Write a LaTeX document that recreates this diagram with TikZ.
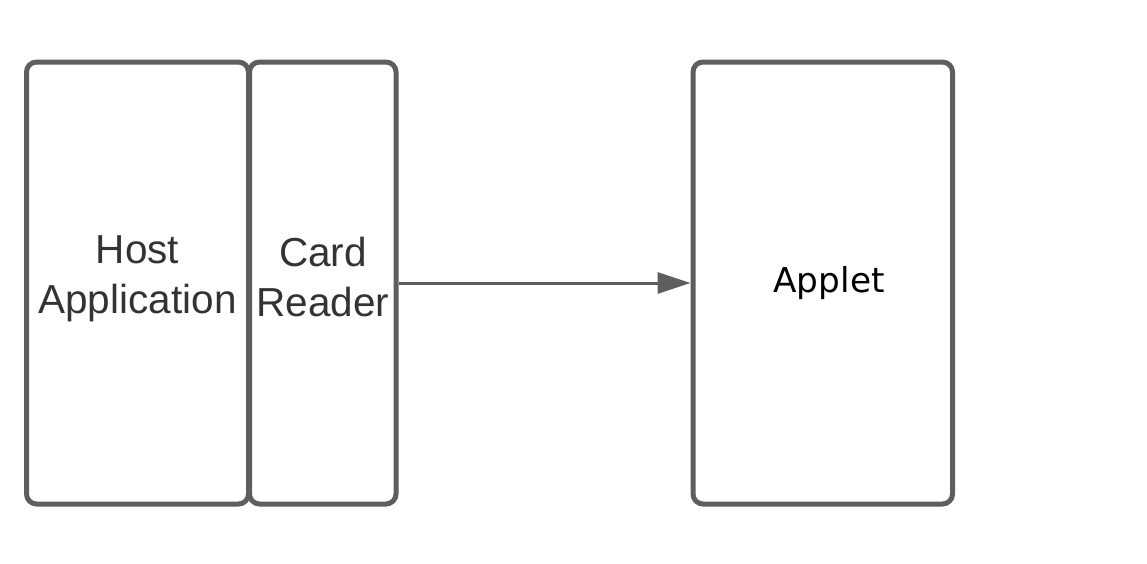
\documentclass[tikz,border=0pt]{standalone}
\usepackage{fontspec}
\usetikzlibrary{arrows.meta}
\newfontfamily\libsans{Liberation Sans}
\newfontfamily\dvsans{DejaVu Sans}
\definecolor{strokegray}{HTML}{5E5E5E}
\definecolor{textgray}{HTML}{333333}
\begin{document}
\begin{tikzpicture}[x=1pt,y=-1pt,
  panel/.style={draw=strokegray, line width=5pt, rounded corners=10pt, inner sep=0pt, minimum height=442pt},
  bigtext/.style={font=\libsans\fontsize{40.5}{50}\selectfont, text=textgray, align=center, inner sep=0pt, anchor=base},
  applettext/.style={font=\dvsans\fontsize{34.3}{40}\selectfont, text=black, inner sep=0pt, anchor=base},
  link/.style={draw=strokegray, line width=3pt, -{Triangle[length=33pt,width=21pt]}}]
\useasboundingbox (0,0) rectangle (1147,563);
\node[panel, minimum width=222pt] (host) at (137.5,283) {};
\node[panel, minimum width=146.5pt] (card) at (322.75,283) {};
\node[panel, minimum width=259.5pt] (applet) at (822.75,283) {};
\node[bigtext] (hostlabel) at (137.5,313) {Host\\Application};
\node[bigtext] (cardlabel) at (323,316) {Card\\Reader};
\node[applettext] (appletlabel) at (829,292) {Applet};
\draw[link] (card.east) -- (applet.west);
\end{tikzpicture}
\end{document}
